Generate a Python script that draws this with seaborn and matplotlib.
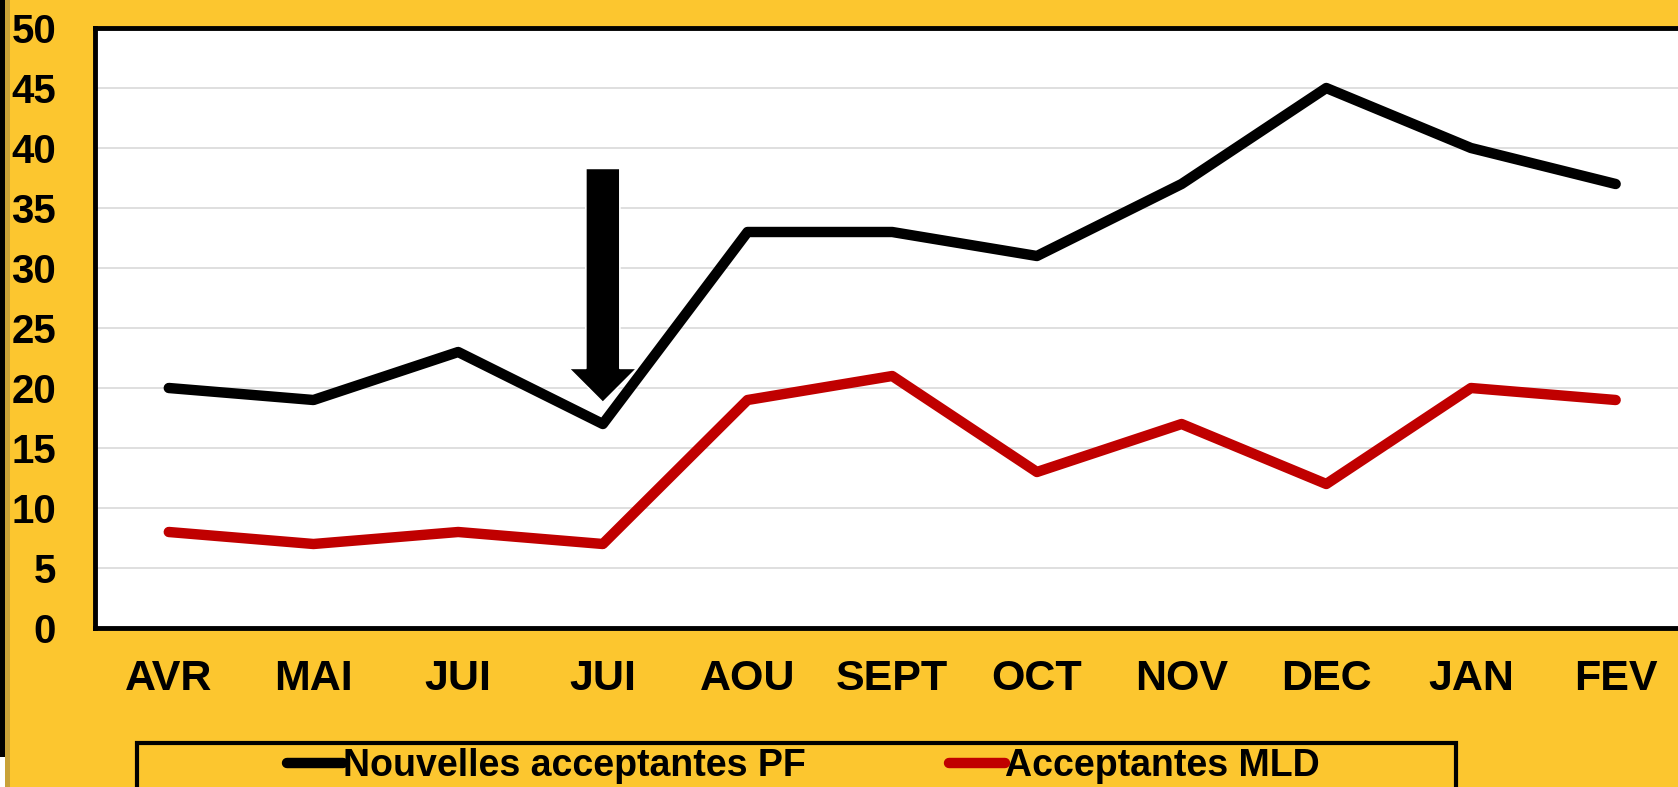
import numpy as np
import pandas as pd
import matplotlib
matplotlib.use("Agg")
import matplotlib.pyplot as plt
from matplotlib.patches import Rectangle
import seaborn as sns

# ============================================================================
# DATA
# ============================================================================

months = ["AVR", "MAI", "JUI", "JUI", "AOU", "SEPT", "OCT", "NOV", "DEC", "JAN", "FEV"]
nouvelles_pf = [20, 19, 23, 17, 33, 33, 31, 37, 45, 40, 37]
acceptantes_mld = [8, 7, 8, 7, 19, 21, 13, 17, 12, 20, 19]
y_ticks = [0, 5, 10, 15, 20, 25, 30, 35, 40, 45, 50]

# arrow pointing at the 4th month
arrow_x = 3
arrow_top = 38.3
arrow_tip = 18.8

BG = "#FCC62F"

# ============================================================================
# FIGURE
# ============================================================================

sns.set_style("white")
plt.rcParams["font.family"] = ["Liberation Sans", "DejaVu Sans"]
plt.rcParams["font.weight"] = "bold"
plt.rcParams["text.color"] = "black"
plt.rcParams["xtick.color"] = "black"
plt.rcParams["ytick.color"] = "black"

W, H = 1678, 787
fig = plt.figure(figsize=(W / 100, H / 100), dpi=100, facecolor=BG)

ax = fig.add_axes([95 / W, 1 - 628 / H, (1688 - 95) / W, 600 / H])
ax.set_facecolor("white")

x = np.arange(len(months))

sns.lineplot(x=x, y=nouvelles_pf, ax=ax, color="black", linewidth=7.5,
             label="Nouvelles acceptantes PF", legend=False)
sns.lineplot(x=x, y=acceptantes_mld, ax=ax, color="#C00000", linewidth=7.5,
             label="Acceptantes MLD", legend=False)

for line in ax.lines:
    line.set_solid_capstyle("round")
    line.set_solid_joinstyle("round")

ax.set_xlim(-0.51, 10.5)
ax.set_ylim(0, 50)
ax.set_yticks(y_ticks)
ax.set_yticklabels([str(v) for v in y_ticks], fontsize=29, fontweight="bold", color="black")
ax.set_xticks(x)
ax.set_xticklabels(months, fontsize=31, fontweight="bold", color="black")
ax.tick_params(axis="y", length=0, pad=28)
ax.tick_params(axis="x", length=0, pad=22)

for v in y_ticks[1:-1]:
    ax.axhline(v, color="#D9D9D9", linewidth=1.2, zorder=0)

for side in ["left", "top", "bottom", "right"]:
    ax.spines[side].set_color("black")
    ax.spines[side].set_linewidth(3.5)

# arrow
ax.annotate(
    "",
    xy=(arrow_x, arrow_tip),
    xytext=(arrow_x, arrow_top),
    arrowprops=dict(
        arrowstyle="simple,head_length=2.45,head_width=4.9,tail_width=2.45",
        mutation_scale=10,
        fc="black",
        ec="white",
        lw=1.2,
        shrinkA=0,
        shrinkB=0,
    ),
    zorder=5,
)

# ============================================================================
# LEGEND
# ============================================================================

handles, labels = ax.get_legend_handles_labels()
leg = fig.legend(
    handles,
    labels,
    loc="center left",
    bbox_to_anchor=(287 / W, 1 - 766 / H),
    ncol=2,
    frameon=False,
    prop={"family": "Liberation Sans", "weight": "bold", "size": 27},
    handlelength=1.5,
    handletextpad=0.0,
    columnspacing=3.8,
    borderpad=0,
    borderaxespad=0,
)
for h in leg.legend_handles:
    h.set_solid_capstyle("round")

fig.patches.append(Rectangle((137 / W, -20 / H), 1319 / W, (787 + 20 - 743) / H,
                             transform=fig.transFigure, fill=False,
                             edgecolor="black", linewidth=3))

# left border strip
fig.patches.append(Rectangle((0, 30 / H), 5 / W, 1, transform=fig.transFigure,
                             facecolor="black", edgecolor="none"))
fig.patches.append(Rectangle((5 / W, 0), 5 / W, 1, transform=fig.transFigure,
                             facecolor="#C9A238", edgecolor="none"))
fig.patches.append(Rectangle((0, 0), 5 / W, 30 / H, transform=fig.transFigure,
                             facecolor="white", edgecolor="none"))

fig.savefig("out.png", dpi=100, facecolor=BG)
